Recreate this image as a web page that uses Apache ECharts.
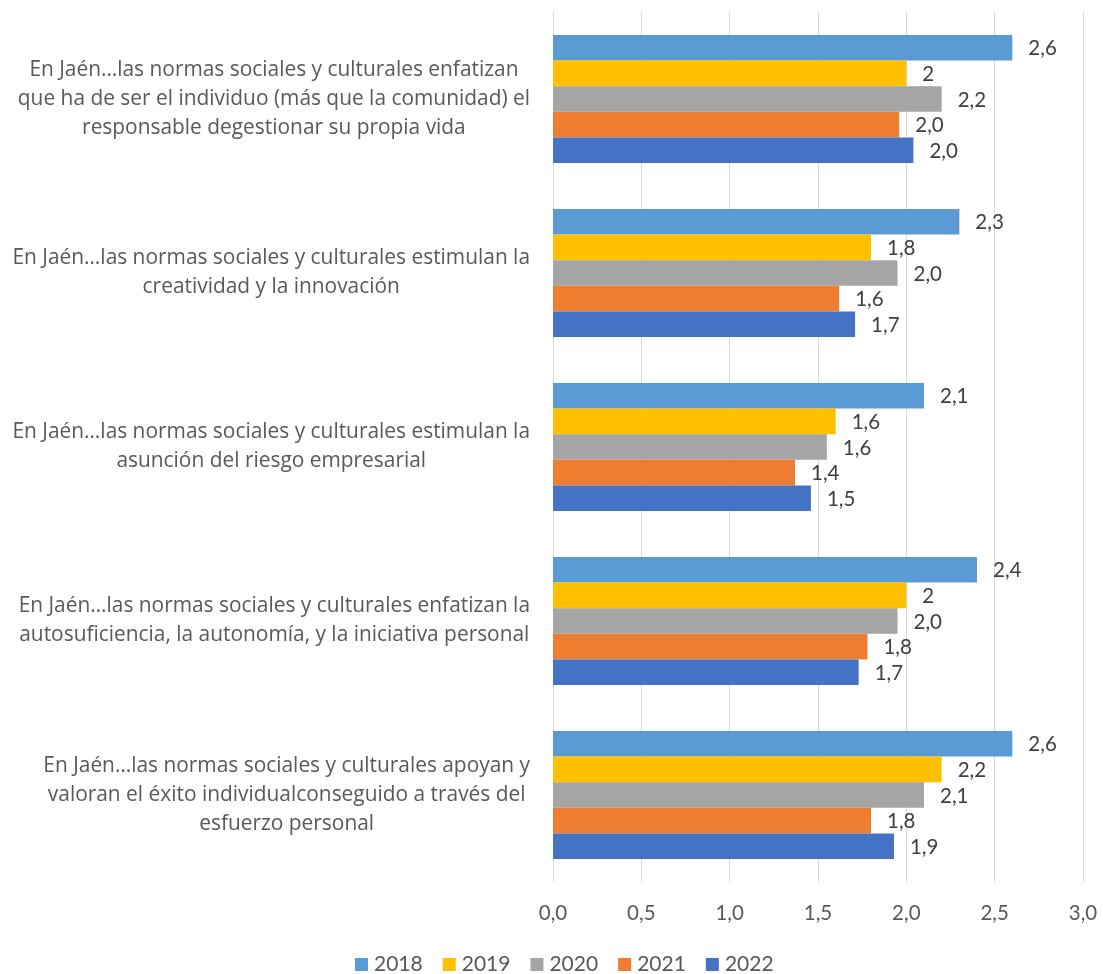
<!DOCTYPE html>
<html>
<head>
<meta charset="utf-8">
<script src="https://cdn.jsdelivr.net/npm/echarts@6/dist/echarts.min.js"></script>
<style>
html,body{margin:0;padding:0;background:#fff;}
#chart{width:1103px;height:974px;}
</style>
</head>
<body>
<div id="chart"></div>
<script>
const categories = [
  "En Jaén…las normas sociales y culturales enfatizan\nque ha de ser el individuo (más que la comunidad) el\nresponsable degestionar su propia vida",
  "En Jaén…las normas sociales y culturales estimulan la\ncreatividad y la innovación",
  "En Jaén…las normas sociales y culturales estimulan la\nasunción del riesgo empresarial",
  "En Jaén…las normas sociales y culturales enfatizan la\nautosuficiencia, la autonomía, y la iniciativa personal",
  "En Jaén…las normas sociales y culturales apoyan y\nvaloran el éxito individualconseguido a través del\nesfuerzo personal"
];
const seriesNames = ["2018", "2019", "2020", "2021", "2022"];
const s2018 = [2.6, 2.3, 2.1, 2.4, 2.6];
const s2019 = [2, 1.8, 1.6, 2, 2.2];
const s2020 = [2.2, 1.95, 1.55, 1.95, 2.1];
const s2021 = [1.96, 1.62, 1.37, 1.78, 1.8];
const s2022 = [2.04, 1.71, 1.46, 1.73, 1.93];
const labelFormats = ["fixed1", "general", "fixed1", "fixed1", "fixed1"];
const xMin = 0, xMax = 3, xStep = 0.5;

const colors = ["#5B9BD5", "#FFC000", "#A5A5A5", "#ED7D31", "#4472C4"];
const FONT = "Lato";
const CAT_FONT = "Open Sans";
const allData = [s2018, s2019, s2020, s2021, s2022];

function fmt(v, kind) {
  if (kind === "general") return String(v).replace(".", ",");
  return (Math.round(v * 10 + 1e-9) / 10).toFixed(1).replace(".", ",");
}

// fit the category label font so the longest line is about 518px wide
const cv = document.createElement("canvas").getContext("2d");
cv.font = "20px '" + CAT_FONT + "'";
const refW = cv.measureText("En Jaén…las normas sociales y culturales estimulan la").width;
let catSize = Math.round(20 * 518 / refW * 10) / 10;
if (!isFinite(catSize) || catSize < 14 || catSize > 26) catSize = 19.5;

const rich = {};
categories.forEach((c, i) => {
  rich["c" + i] = { align: "center", fontFamily: CAT_FONT, fontSize: catSize, lineHeight: 29, color: "#595959" };
});

const chart = echarts.init(document.getElementById("chart"));
chart.setOption({
  animation: false,
  textStyle: { fontFamily: FONT },
  grid: { left: 553, right: 20, top: 12, bottom: 92, containLabel: false },
  legend: {
    bottom: -1,
    padding: 0,
    left: 355,
    itemWidth: 13,
    itemHeight: 13,
    itemGap: 20,
    icon: "rect",
    textStyle: { fontFamily: FONT, fontSize: 21, color: "#595959", padding: [0, 0, 0, 1] },
    data: seriesNames
  },
  xAxis: {
    type: "value",
    min: xMin, max: xMax, interval: xStep,
    axisLine: { show: false },
    axisTick: { show: false },
    splitLine: { show: true, lineStyle: { color: "#d9d9d9", width: 1 } },
    axisLabel: {
      margin: 21,
      fontFamily: FONT, fontSize: 20.5, color: "#595959",
      formatter: v => v.toFixed(1).replace(".", ",")
    }
  },
  yAxis: {
    type: "category",
    inverse: true,
    data: categories,
    axisLine: { show: true, lineStyle: { color: "#d9d9d9" } },
    axisTick: { show: false },
    axisLabel: {
      margin: 23,
      align: "right",
      formatter: (val, idx) => val.split("\n").map(l => "{c" + idx + "|" + l + "}").join("\n"),
      rich: rich
    }
  },
  series: seriesNames.map((name, i) => ({
    name: name,
    type: "bar",
    data: allData[i],
    barGap: "0%",
    barCategoryGap: "26.3%",
    itemStyle: { color: colors[i] },
    label: {
      show: true,
      position: "right",
      distance: 16,
      offset: [0, 1],
      fontFamily: FONT,
      fontSize: 20.5,
      color: "#404040",
      formatter: p => fmt(p.value, labelFormats[i])
    }
  }))
});
</script>
</body>
</html>
